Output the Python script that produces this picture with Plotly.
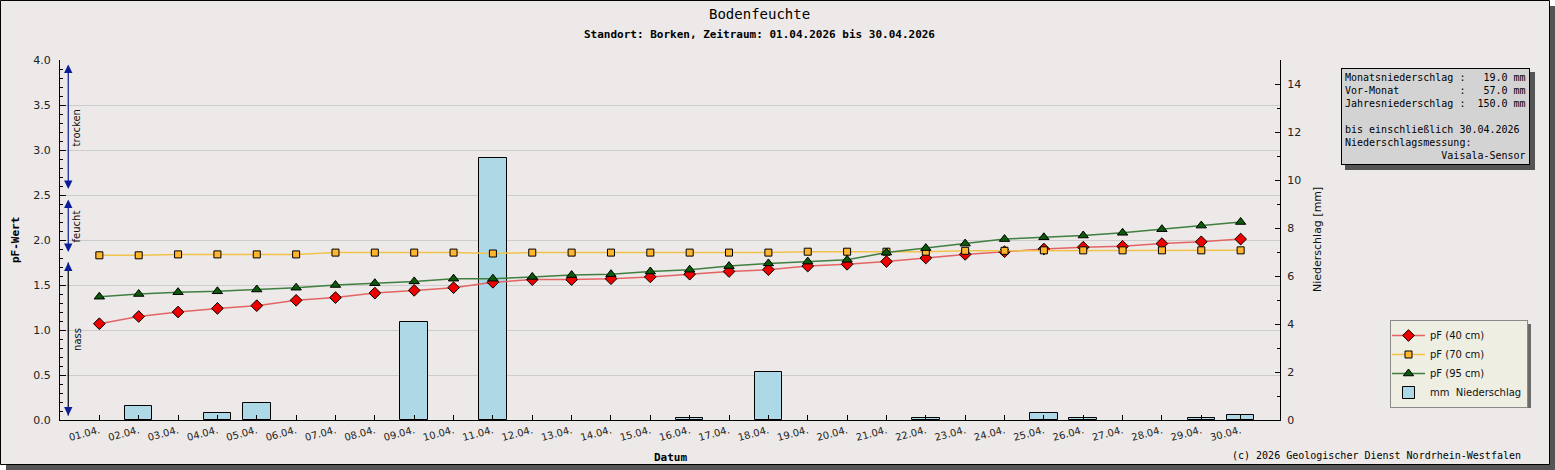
import plotly.graph_objects as go

# ---------------- data ----------------
days = list(range(1, 31))
day_labels = ["01.04.", "02.04.", "03.04.", "04.04.", "05.04.", "06.04.", "07.04.", "08.04.",
              "09.04.", "10.04.", "11.04.", "12.04.", "13.04.", "14.04.", "15.04.", "16.04.",
              "17.04.", "18.04.", "19.04.", "20.04.", "21.04.", "22.04.", "23.04.", "24.04.",
              "25.04.", "26.04.", "27.04.", "28.04.", "29.04.", "30.04."]
pf40 = [1.07, 1.15, 1.20, 1.24, 1.27, 1.33, 1.36, 1.41, 1.44, 1.47,
        1.53, 1.56, 1.56, 1.57, 1.59, 1.62, 1.65, 1.67, 1.71, 1.73,
        1.76, 1.80, 1.84, 1.87, 1.90, 1.92, 1.93, 1.96, 1.98, 2.01]
pf70 = [1.83, 1.83, 1.84, 1.84, 1.84, 1.84, 1.86, 1.86, 1.86, 1.86,
        1.85, 1.86, 1.86, 1.86, 1.86, 1.86, 1.86, 1.86, 1.87, 1.87,
        1.87, 1.87, 1.88, 1.88, 1.885, 1.885, 1.885, 1.885, 1.885, 1.885]
pf95 = [1.37, 1.40, 1.42, 1.43, 1.45, 1.47, 1.50, 1.52, 1.54, 1.57,
        1.57, 1.59, 1.61, 1.62, 1.65, 1.67, 1.71, 1.74, 1.76, 1.78,
        1.86, 1.91, 1.96, 2.01, 2.03, 2.05, 2.08, 2.12, 2.16, 2.20]
precip = [0, 0.6, 0, 0.3, 0.7, 0, 0, 0, 4.1, 0,
          10.9, 0, 0, 0, 0, 0.1, 0, 2.0, 0, 0,
          0, 0.1, 0, 0, 0.3, 0.1, 0, 0, 0.1, 0.2]
zones = [("trocken", 2.5, 4.0), ("feucht", 1.8, 2.5), ("nass", 0.0, 1.8)]
info_lines = [
    "Monatsniederschlag :   19.0 mm",
    "Vor-Monat          :   57.0 mm",
    "Jahresniederschlag :  150.0 mm",
    "",
    "bis einschließlich 30.04.2026",
    "Niederschlagsmessung:",
    "                Vaisala-Sensor",
]

# ---------------- layout helpers (pixel -> paper) ----------------
W, H = 1555, 470
PL, PR, PT, PB = 60, 1280, 60, 420


def px(x):
    return (x - PL) / (PR - PL)


def py(y):
    return (PB - y) / (PB - PT)


MONO = "DejaVu Sans Mono"
SANS = "DejaVu Sans"
BG = "#ECE9E8"
SHADOW = "#555555"

fig = go.Figure()

fig.add_trace(go.Bar(
    x=days, y=[v if v > 0 else None for v in precip], name="mm\u00a0\u00a0Niederschlag", yaxis="y",
    width=0.7, legendrank=4,
    marker=dict(color="#ADD8E6", line=dict(color="black", width=1)),
))
fig.add_trace(go.Scatter(
    x=days, y=pf40, name="pF (40 cm)", yaxis="y2", mode="lines+markers", legendrank=1,
    line=dict(color="#E46464", width=1.5),
    marker=dict(symbol="diamond", size=9, color="#EE0000", line=dict(color="black", width=1)),
))
fig.add_trace(go.Scatter(
    x=days, y=pf70, name="pF (70 cm)", yaxis="y2", mode="lines+markers", legendrank=2,
    line=dict(color="#F2C24A", width=1.5),
    marker=dict(symbol="square", size=7, color="#FFB62E", line=dict(color="black", width=1)),
))
fig.add_trace(go.Scatter(
    x=days, y=pf95, name="pF (95 cm)", yaxis="y2", mode="lines+markers", legendrank=3,
    line=dict(color="#3F7F3F", width=1.5),
    marker=dict(symbol="triangle-up", size=9, color="#0A5A0A", line=dict(color="black", width=1)),
))

LEG_L, LEG_T, LEG_R, LEG_B = 1390, 320, 1527, 404

shapes = [
    # frame shadow + frame
    dict(type="rect", xref="paper", yref="paper", x0=px(6), x1=px(1556), y0=py(471), y1=py(6),
         fillcolor=SHADOW, line=dict(width=0), layer="below"),
    dict(type="rect", xref="paper", yref="paper", x0=px(0.5), x1=px(1549.5), y0=py(464.5), y1=py(0.5),
         fillcolor=BG, line=dict(color="black", width=1), layer="below"),
    # info box shadow
    dict(type="rect", xref="paper", yref="paper", x0=px(1345), x1=px(1535), y0=py(170), y1=py(72),
         fillcolor=SHADOW, line=dict(width=0), layer="below"),
    # legend shadow
    dict(type="rect", xref="paper", yref="paper", x0=px(LEG_L + 4), x1=px(LEG_R + 4), y0=py(LEG_B + 4),
         y1=py(LEG_T + 4), fillcolor="#6a6a6a", line=dict(width=0), layer="below"),
]

annotations = []
# zone arrows (left side)
ZX = 0.21
TX = 0.43
inset = 0.05
ACOL = "#0A1E9A"
for name, lo, hi in zones:
    if name == "nass":
        shapes.append(dict(type="line", xref="x", yref="y2", x0=ZX, x1=ZX, y0=lo + inset, y1=hi - inset,
                           line=dict(color="black", width=1.2)))
        for head, tail in ((hi - inset, hi - inset - 0.06), (lo + inset, lo + inset + 0.06)):
            annotations.append(dict(x=ZX, y=head, ax=ZX, ay=tail, xref="x", yref="y2", axref="x", ayref="y2",
                                    text="", showarrow=True, arrowhead=2, arrowsize=1.4, arrowwidth=1.2,
                                    arrowcolor=ACOL))
    else:
        annotations.append(dict(x=ZX, y=hi - inset, ax=ZX, ay=lo + inset, xref="x", yref="y2", axref="x",
                                ayref="y2", text="", showarrow=True, arrowhead=2, arrowside="end+start",
                                arrowsize=1.4, arrowwidth=1.2, arrowcolor=ACOL))
    annotations.append(dict(x=TX, y=(lo + hi) / 2, xref="x", yref="y2", text=name, showarrow=False,
                            textangle=-90, font=dict(family=SANS, size=10, color="#111")))

# titles
TC = px(759)
annotations += [
    dict(x=TC, y=py(14), xref="paper", yref="paper", text="Bodenfeuchte", showarrow=False,
         font=dict(family=MONO, size=14, color="black"), yanchor="middle"),
    dict(x=TC, y=py(34), xref="paper", yref="paper", text="<b>Standort: Borken, Zeitraum: 01.04.2026 bis 30.04.2026</b>",
         showarrow=False, font=dict(family=MONO, size=11, color="black"), yanchor="middle"),
    dict(x=0.5, y=py(457), xref="paper", yref="paper", text="<b>Datum</b>", showarrow=False,
         font=dict(family=MONO, size=11, color="black"), yanchor="middle"),
    dict(x=px(15), y=0.5, xref="paper", yref="paper", text="<b>pF-Wert</b>", showarrow=False, textangle=-90,
         font=dict(family=MONO, size=11, color="black"), xanchor="center"),
    dict(x=px(1317), y=0.5, xref="paper", yref="paper", text="Niederschlag [mm]", showarrow=False, textangle=-90,
         font=dict(family=SANS, size=11, color="#111"), xanchor="center"),
    dict(x=px(1523), y=py(455), xref="paper", yref="paper",
         text="(c) 2026 Geologischer Dienst Nordrhein-Westfalen", showarrow=False,
         font=dict(family=MONO, size=10, color="black"), xanchor="right", yanchor="middle"),
    dict(x=px(1341), y=py(68), xref="paper", yref="paper", xanchor="left", yanchor="top",
         text="<br>".join((l if l else " ").replace(" ", "\u00a0") for l in info_lines),
         showarrow=False, align="left", bgcolor="#D3D3D3", bordercolor="black", borderwidth=1, borderpad=3,
         font=dict(family=MONO, size=10, color="black")),
]

fig.update_layout(
    width=W, height=H,
    margin=dict(l=PL, r=W - PR, t=PT, b=H - PB, pad=0),
    paper_bgcolor="white",
    plot_bgcolor="white",
    showlegend=True,
    legend=dict(x=px(LEG_L), y=py(LEG_T), xanchor="left", yanchor="top", bgcolor="#EEEEE3",
                bordercolor="#8a8a8a", borderwidth=1, font=dict(family=SANS, size=10, color="#111"),
                traceorder="normal", itemwidth=33, tracegroupgap=0, indentation=-4),
    bargap=0,
    xaxis=dict(range=[0, 31], tickvals=days, ticktext=day_labels, tickangle=-15, ticks="inside", ticklen=5,
               tickcolor="black", showline=True, linecolor="black", linewidth=1, showgrid=False, zeroline=False,
               tickfont=dict(family=SANS, size=10, color="#222")),
    yaxis=dict(range=[0, 15], side="right", dtick=2, ticks="inside", ticklen=5, tickcolor="black",
               showline=True, linecolor="black", linewidth=1, showgrid=False, zeroline=False,
               minor=dict(dtick=1, ticks="inside", ticklen=3, tickcolor="black"),
               tickfont=dict(family=SANS, size=11, color="#222"), ticklabelstandoff=4),
    yaxis2=dict(range=[0, 4], side="left", overlaying="y", dtick=0.5, tickformat=".1f", ticks="inside",
                ticklen=6, tickcolor="black", showline=True, linecolor="black", linewidth=1,
                showgrid=True, gridcolor="#CCCCCC", gridwidth=1, zeroline=False,
                minor=dict(dtick=0.1, ticks="inside", ticklen=3, tickcolor="black", showgrid=False),
                tickfont=dict(family=SANS, size=11, color="#222"), ticklabelstandoff=6),
    shapes=shapes,
    annotations=annotations,
)

fig.write_html("out.html", config={"displayModeBar": False},
               post_script="document.body.style.margin='0';document.body.style.overflow='hidden';")
